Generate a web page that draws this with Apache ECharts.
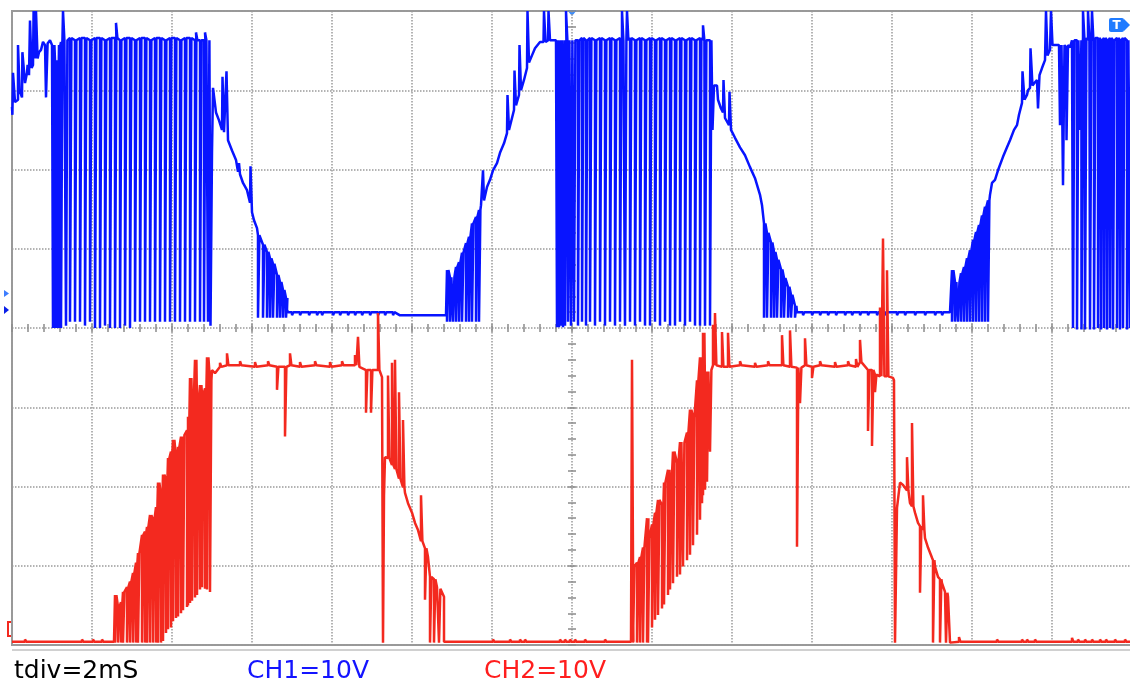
<!DOCTYPE html>
<html>
<head>
<meta charset="utf-8">
<title>scope capture</title>
<script src="https://cdn.jsdelivr.net/npm/echarts@6/dist/echarts.min.js"></script>
<style>
  html, body { margin: 0; padding: 0; background: #fff; }
  #chart { width: 1130px; height: 683px; }
</style>
</head>
<body>
<div id="chart"></div>
<script>
// time in ms relative to trigger (2 ms/div), voltage in V on screen (10 V/div)
// [t, v] = a point on the trace, [t, a, b] = a short glitch/pulse from level a to b and back

// ---- CH1 (blue) ----
var ch1Lead = [[-14.0,27.9],[-13.99,26.9],[-13.975,32.2],[-13.925,32.2],[-13.925,28.5],[-13.85,28.8],[-13.85,35.7],[-13.825,35.7],[-13.81,30.0],[-13.75,29.1],[-13.74,34.8],[-13.7,34.8],[-13.675,30.9],[-13.625,32.2],[-13.61,33.2],[-13.575,31.9],[-13.55,38.8],[-13.525,38.8],[-13.51,32.8],[-13.475,33.2],[-13.46,40],[-13.425,40],[-13.41,34.0],[-13.4,40],[-13.375,40],[-13.36,34.0],[-13.325,34.8],[-13.275,35.1],[-13.225,36.1],[-13.175,35.7],[-13.15,29.1],[-13.125,29.1],[-13.11,35.9],[-13.05,36.3],[-13.0,35.7]];
var ch1Burst1 = [[-12.975,35.7,0.0],[-12.925,33.8,0.0],[-12.875,30.0,0.0],[-12.825,35.7,0.0],[-12.775,36.1,0.0],[-12.725,36.3,40],[-12.65,36.3,0.3],[-12.55,36.6,0.8],[-12.425,36.3,0.8],[-12.3,36.6,0.8],[-12.175,36.6,0.3],[-12.05,36.3,0.8],[-11.925,36.6,0.0],[-11.8,36.6,0.0],[-11.675,36.3,0.3],[-11.55,36.6,0.0],[-11.425,36.6,0.0],[-11.4,36.6,38.5],[-11.3,36.3,0.0],[-11.175,36.6,0.3],[-11.05,36.6,0.0],[-10.925,36.3,0.8],[-10.8,36.6,0.8],[-10.675,36.6,0.8],[-10.55,36.3,0.8],[-10.425,36.6,0.8],[-10.3,36.6,0.8],[-10.175,36.3,0.8],[-10.05,36.6,0.8],[-9.925,36.6,0.8],[-9.8,36.3,0.8],[-9.675,36.6,0.8],[-9.55,36.6,0.8],[-9.425,36.3,0.8],[-9.4,36.3,37.3],[-9.3,36.3,0.8],[-9.2,36.3,0.8],[-9.175,36.3,37.3],[-9.1,36.3,0.8]];
var ch1Fall1 = [[-9.05,36.3],[-9.0375,0.3],[-9.0125,0.3],[-9.0,22.2],[-8.975,30.3],[-8.925,30.3],[-8.9,27.2],[-8.825,26.2],[-8.75,25.0],[-8.7375,31.7],[-8.7125,31.7],[-8.7,24.7],[-8.65,24.6],[-8.6375,32.4],[-8.6125,32.4],[-8.6,23.7],[-8.5,22.4],[-8.4,21.2],[-8.35,19.7],[-8.325,20.8],[-8.3,19.4],[-8.225,18.3],[-8.125,17.4],[-8.05,15.8],[-8.0375,20.4],[-8.0125,20.4],[-8.0,14.6],[-7.95,13.6],[-7.875,12.6],
  [-7.85,11.7,1.3],[-7.725,10.5,1.3],[-7.625,9.6,1.3],[-7.55,8.8,1.3],[-7.475,8.1,1.3],[-7.375,6.7,1.3],[-7.3,5.8,1.3],[-7.225,4.8,1.3],[-7.15,3.8,1.3]];
var ch1Flat1 = [[-7.125,2.3],[-7.1,2.0],[-7.0,2.0,1.6],[-6.8,2.0,1.6],[-6.575,2.0,1.6],[-6.375,2.0,1.6],[-6.25,2.0,1.6],[-5.975,2.0,1.6],[-5.8,2.0,1.6],[-5.6,2.0,1.6],[-5.425,2.0,1.6],[-5.25,2.0,1.6],[-5.05,2.0,1.6],[-4.85,2.0,1.6],[-4.675,2.0,1.6],[-4.475,2.0,1.6],[-4.3,1.6],[-3.275,1.6],[-3.15,1.6]];
var ch1Rise1 = [[-3.125,7.3,0.8],[-3.05,6.4,0.8],[-2.975,6.4,0.8],[-2.9,7.7,0.8],[-2.825,8.3,0.8],[-2.75,9.5,0.8],[-2.65,10.7,0.8],[-2.575,11.5,0.8],[-2.5,13.2,0.8],[-2.4,14.0,0.8],[-2.325,14.9,0.8],
  [-2.275,15.5],[-2.24,15.5],[-2.225,19.9],[-2.2,16.1],[-2.125,17.8],[-2.05,18.7],[-1.975,19.9],[-1.875,20.8],[-1.8,22.1],[-1.7,23.3],[-1.625,24.6],[-1.6125,29.4],[-1.5875,29.4],[-1.575,25.0],[-1.5,26.5],[-1.45,27.5],[-1.4375,32.5],[-1.4125,32.5],[-1.4,28.1],[-1.325,29.4],[-1.3125,35.7],[-1.2875,35.7],[-1.275,30.0],[-1.2,31.3],[-1.125,32.8],[-1.1125,40],[-1.0875,40],[-1.075,33.5],[-1.0,34.4],[-0.925,35.3],[-0.8,36.1],[-0.7125,36.1],[-0.7,40],[-0.675,40],[-0.6625,36.1],[-0.6,36.3],[-0.5875,40],[-0.5625,40],[-0.55,36.3],[-0.4,36.3]];
var ch1Burst2 = [[-0.375,36.3,0.1],[-0.325,35.0,0.1],[-0.275,36.3,0.3],[-0.225,30.0,0.1],[-0.175,36.3,0.3],[-0.15,36.3,40],[-0.1,36.3,0.8],[-0.025,36.3,0.3],[0.05,36.3,0.8],[0.15,36.3,0.3],[0.25,36.6,0.8],[0.35,36.3,0.3],[0.45,36.6,0.8],[0.575,36.3,0.3],[0.7,36.6,0.8],[0.825,36.3,0.3],[0.95,36.6,0.8],[1.075,36.3,0.3],[1.2,36.6,0.8],[1.25,36.3,40],[1.325,36.3,0.3],[1.375,36.3,40],[1.45,36.6,0.8],[1.575,36.3,0.3],[1.7,36.6,0.8],[1.825,36.3,0.3],[1.95,36.6,0.3],[2.075,36.3,0.8],[2.2,36.6,0.3],[2.325,36.3,0.8],[2.45,36.6,0.3],[2.575,36.3,0.3],[2.7,36.6,0.8],[2.825,36.3,0.3],[2.95,36.6,0.8],[3.075,36.3,0.3],[3.2,36.6,0.3],[3.275,36.3,38.2],[3.325,36.3,0.3],[3.45,36.3,0.3]];
var ch1Fall2 = [[3.5,36.3],[3.5125,25.0],[3.525,25.0],[3.55,30.6],[3.625,30.6],[3.65,28.8],[3.725,27.7],[3.775,27.2],[3.7875,31.3],[3.8125,31.3],[3.825,26.5],[3.925,25.6],[3.9375,29.8],[3.9625,29.8],[3.975,25.0],[4.075,24.0],[4.2,22.8],[4.325,21.8],[4.45,20.3],[4.575,18.9],[4.7,16.8],[4.75,15.5],
  [4.8,13.2,1.3],[4.875,12.0,1.3],[4.975,10.8,1.3],[5.05,9.6,1.3],[5.125,8.6,1.3],[5.225,7.4,1.3],[5.3,6.3,1.3],[5.4,5.2,1.3],[5.475,4.2,1.3],[5.575,2.8,1.3]];
var ch1Flat2 = [[5.625,2.0],[5.775,2.0,1.6],[6.0,2.0,1.6],[6.2,2.0,1.6],[6.4,2.0,1.6],[6.6,2.0,1.6],[6.825,2.0,1.6],[7.0,2.0,1.6],[7.2,2.0,1.6],[7.4,2.0,1.6],[7.625,2.0,1.6],[7.825,2.0,1.6],[8.125,2.0,1.6],[8.325,2.0,1.6],[8.575,2.0,1.6],[8.825,2.0,1.6],[9.075,2.0,1.6],[9.25,2.0,1.6],[9.45,2.0]];
var ch1Rise2 = [[9.5,7.3,0.8],[9.575,5.8,0.8],[9.65,5.7,0.8],[9.725,6.9,0.8],[9.8,7.7,0.8],[9.875,8.8,0.8],[9.95,9.8,0.8],[10.025,11.1,0.8],[10.1,12.1,0.8],[10.175,13.0,0.8],[10.25,14.2,0.8],[10.325,15.3,0.8],[10.4,16.1,0.8],
  [10.45,16.8],[10.5,18.3],[10.575,18.7],[10.65,19.9],[10.775,21.6],[10.875,22.8],[10.95,23.7],[11.05,25.0],[11.125,25.6],[11.175,26.9],[11.25,28.4],[11.2625,32.4],[11.3,32.4],[11.3125,28.8],[11.375,29.4],[11.4,30.0],[11.45,30.3],[11.4625,35.3],[11.5,35.3],[11.5125,30.6],[11.575,31.0],[11.625,31.3],[11.65,27.7],[11.675,27.7],[11.6875,31.9],[11.75,32.8],[11.825,33.8],[11.85,40],[11.875,40],[11.8875,34.4],[11.95,35.1],[11.975,40],[12.0,40],[12.0125,35.7],[12.175,35.7],[12.2,25.6],[12.225,25.6],[12.2375,35.7],[12.2625,35.7],[12.275,18.0],[12.3,18.0],[12.3125,35.7],[12.35,35.4],[12.3625,23.7],[12.3875,23.7],[12.4,35.7],[12.45,35.4],[12.5,36.3]];
var ch1Burst3 = [[12.525,36.3,0.0],[12.625,36.3,-0.2],[12.7,36.3,25.0],[12.7375,36.3,-0.2],[12.775,36.6,40],[12.825,36.6,-0.2],[12.9,36.3,40],[12.95,36.3,-0.2],[13.0,36.3,40],[13.05,36.6,-0.2],[13.15,36.6,0.0],[13.225,36.3,-0.2],[13.3,36.6,0.0],[13.375,36.3,-0.2],[13.45,36.6,0.0],[13.525,36.3,-0.2],[13.625,36.6,0.0],[13.7,36.3,-0.2],[13.775,36.6,0.0],[13.875,36.3,-0.2],[13.95,36.3,0.0]];

// ---- CH2 (red) ----
var ch2Lead = [[-14.0,-39.6],[-13.675,-39.6,-39.3],[-12.25,-39.6,-39.3],[-11.975,-39.6,-39.3],[-11.75,-39.6,-39.3],[-11.45,-39.6]];
var ch2Rise1 = [[-11.425,-33.7,-39.7],[-11.35,-35.2,-39.7],[-11.275,-34.6,-39.7],[-11.225,-33.3,-39.7],[-11.125,-32.7,-39.7],[-11.05,-32.0,-39.7],[-10.975,-30.9,-39.7],[-10.9,-29.6,-39.7],[-10.85,-28.4,-39.7],[-10.75,-26.1,-39.7],[-10.675,-25.7,-39.7],[-10.625,-25.1,-39.7],[-10.55,-23.6,-39.7],[-10.475,-24.2,-39.7],[-10.4,-22.6,-39.7],[-10.35,-19.5,-39.7],[-10.275,-21.3,-39.7],[-10.225,-18.5,-39.5],[-10.15,-19.2,-38.5],[-10.1,-16.4,-38.0],[-10.025,-15.6,-37.8],[-9.975,-14.1,-37.0],[-9.9,-16.4,-36.6],[-9.85,-15.0,-36.4],[-9.775,-13.7,-36.0],[-9.725,-13.5,-35.6],[-9.625,-12.9,-35.2],[-9.6,-11.2,-35.0],[-9.55,-6.3,-34.7],[-9.5,-10.7,-34.4],[-9.425,-4.0,-34.0],[-9.375,-9.7,-33.7],[-9.3,-7.2,-33.0],[-9.25,-8.4,-32.7],[-9.175,-7.6,-32.9],[-9.125,-3.7,-33.0],[-9.05,-6.6,-33.3]];
var ch2Top1 = [[-9.0,-5.3],[-8.925,-5.7],[-8.8,-4.9,-4.4],[-8.625,-4.7,-3.2],[-8.3,-4.7,-4.2],[-7.925,-4.9,-4.3],[-7.6,-4.7,-4.2],[-7.375,-4.9,-7.8],[-7.175,-4.9,-13.7],[-7.05,-4.7,-3.2],[-6.8,-4.9,-4.3],[-6.425,-4.7,-4.2],[-6.05,-4.9,-4.3],[-5.75,-4.7,-4.2],[-5.425,-4.7,-3.4],[-5.35,-4.9,-1.1],[-5.15,-5.3,-10.7],[-5.025,-5.3,-10.7],[-4.85,-5.3,1.9],[-4.75,-6.2]];
var ch2Fall1 = [[-4.725,-6.2],[-4.725,-39.7],[-4.7,-39.7],[-4.7,-21.1],[-4.675,-16.3],[-4.6,-16.4,-6.0],[-4.5,-17.3,-4.4],[-4.425,-17.8,-4.0],[-4.325,-19.0,-8.1],[-4.225,-20.1,-11.6],[-4.175,-20.8],[-4.1,-22.1],[-4.0,-23.3],[-3.925,-24.6],[-3.85,-25.5],[-3.775,-26.9,-21.1],[-3.675,-27.8,-34.3],[-3.6,-28.9],[-3.55,-31.4,-39.7],[-3.45,-31.7,-39.7],[-3.375,-32.7],[-3.325,-32.9,-39.7],[-3.2,-33.9],[-3.2,-39.6]];
var ch2Base1 = [[-3.1,-39.6],[-1.975,-39.6,-39.3],[-1.55,-39.6,-39.3],[-1.3,-39.6,-39.3],[-1.175,-39.6,-39.3],[-0.3,-39.6,-39.3],[-0.175,-39.6,-39.3],[-0.05,-39.6,-39.3],[0.075,-39.6,-39.3],[0.325,-39.6,-39.3],[0.825,-39.6,-39.3],[1.475,-39.6]];
var ch2Rise2 = [[1.5,-39.6,-4.0],[1.525,-30.1,-39.7],[1.625,-29.6,-39.7],[1.7,-28.9,-39.7],[1.775,-27.7,-39.7],[1.875,-24.0,-39.7],[1.9,-26.5,-39.7],[2.0,-24.8,-37.8],[2.075,-23.3,-36.8],[2.15,-21.7,-36.2],[2.25,-22.3,-35.4],[2.3,-19.5,-34.9],[2.4,-17.9,-33.7],[2.45,-20.1,-33.0],[2.525,-15.6,-32.2],[2.625,-17.0,-31.4],[2.7,-14.4,-31.1],[2.775,-14.5,-30.1],[2.875,-13.2,-29.3],[2.95,-10.3,-28.6],[3.025,-11.3,-27.4],[3.125,-6.6,-26.1],[3.2,-3.7,-24.2],[3.25,-9.5,-22.1],[3.275,-0.6,-21.1],[3.325,-8.1,-20.4],[3.375,-5.5,-19.4],[3.45,-5.3,-15.6],[3.525,-4.7,0.4],[3.575,-4.7,1.9]];
var ch2Top2 = [[3.65,-4.9],[3.75,-4.9,-0.5],[3.9,-4.9,-0.6],[4.2,-4.7,-4.2],[4.575,-4.9,-4.4],[4.9,-4.7,-4.2],[5.25,-4.7,-0.9],[5.45,-4.9,-0.3],[5.625,-5.0,-27.6],[5.7,-5.0,-9.5],[5.825,-4.7,-1.3],[6.0,-4.9,-6.3],[6.2,-4.7,-4.2],[6.575,-4.9,-4.3],[6.9,-4.7,-4.2],[7.1,-4.9,-3.9],[7.2,-4.3,-1.5],[7.4,-5.3,-13.0],[7.5,-5.3,-14.9],[7.575,-5.9,-8.1],[7.7,-6.1,2.6],[7.775,-6.1,11.3],[7.875,-6.1,7.3],[7.9,-5.9],[8.025,-6.3]];
var ch2Fall2 = [[8.05,-6.6],[8.075,-39.7],[8.1,-39.7],[8.125,-22.7],[8.15,-22.7],[8.2,-19.5],[8.275,-19.8],[8.375,-20.5,-16.3],[8.45,-22.1],[8.5,-22.5,-12.0],[8.575,-23.3],[8.65,-24.6],[8.7,-25.0,-33.4],[8.775,-25.5,-21.1],[8.825,-26.5],[8.9,-27.7],[9.0,-29.0],[9.025,-29.3,-39.7],[9.075,-30.1],[9.15,-31.4],[9.2,-31.7,-39.7],[9.25,-32.2],[9.325,-33.3],[9.35,-33.4,-39.7],[9.4,-33.9],[9.45,-39.7]];
var ch2Base2 = [[9.5,-39.6],[9.675,-39.6,-39.0],[10.625,-39.6,-39.3],[11.25,-39.6,-39.3],[11.375,-39.6,-39.3],[11.575,-39.6,-39.3],[12.5,-39.6,-39.1],[12.65,-39.6,-39.3],[12.825,-39.6,-39.3],[13.0,-39.6,-39.3],[13.2,-39.6,-39.3],[13.35,-39.6,-39.3],[13.575,-39.6,-39.3],[13.825,-39.6,-39.3],[14.0,-39.6]];

var PULSE_W = 0.035; // glitch width in ms

function expand(sections) {
  var out = [];
  sections.forEach(function (sec) {
    sec.forEach(function (p) {
      if (p.length === 2) {
        out.push(p);
      } else {
        out.push([p[0], p[1]], [p[0], p[2]], [p[0] + PULSE_W, p[2]], [p[0] + PULSE_W, p[1]]);
      }
    });
  });
  return out;
}

var ch1 = expand([ch1Lead, ch1Burst1, ch1Fall1, ch1Flat1, ch1Rise1, ch1Burst2, ch1Fall2, ch1Flat2, ch1Rise2, ch1Burst3]);
var ch2 = expand([ch2Lead, ch2Rise1, ch2Top1, ch2Fall1, ch2Base1, ch2Rise2, ch2Top2, ch2Fall2, ch2Base2]);

var chart = echarts.init(document.getElementById('chart'), null, { renderer: 'canvas' });

var gridLine = { color: '#9a9a9a', width: 1.5, type: [1.5, 1.5] };
var tickStyle = { color: '#8c8c8c', width: 1.5 };

function xAx(pos, grid) {
  return {
    type: 'value', min: -14, max: 14, interval: 2, position: pos,
    axisLabel: { show: false },
    splitLine: { show: grid, lineStyle: gridLine },
    axisLine: { show: false, onZero: true },
    axisTick: { show: true, inside: false, length: 4, lineStyle: tickStyle },
    minorTick: { show: true, splitNumber: 5, length: 4, lineStyle: tickStyle }
  };
}
function yAx(pos, grid) {
  return {
    type: 'value', min: -40, max: 40, interval: 10, position: pos,
    axisLabel: { show: false },
    splitLine: { show: grid, lineStyle: gridLine },
    axisLine: { show: false, onZero: true },
    axisTick: { show: true, inside: false, length: 4, lineStyle: tickStyle },
    minorTick: { show: true, splitNumber: 5, length: 4, lineStyle: tickStyle }
  };
}

var option = {
  animation: false,
  backgroundColor: '#ffffff',
  grid: {
    left: 12, top: 11, width: 1120, height: 634,
    show: true, borderColor: '#999999', borderWidth: 2,
    outerBoundsMode: 'none'
  },
  xAxis: [xAx('bottom', true), xAx('top', false)],
  yAxis: [yAx('left', true), yAx('right', false)],
  series: [
    {
      name: 'CH1', type: 'line', data: ch1,
      symbol: 'none', showSymbol: false, silent: true,
      lineStyle: { color: '#0814ff', width: 2.5, join: 'bevel' },
      z: 3
    },
    {
      name: 'CH2', type: 'line', data: ch2,
      symbol: 'none', showSymbol: false, silent: true,
      lineStyle: { color: '#f3291f', width: 2.5, join: 'bevel' },
      z: 4
    }
  ],
  graphic: [
    { type: 'line', shape: { x1: 12, y1: 650, x2: 1130, y2: 650 }, style: { stroke: '#d0d0d0', lineWidth: 2 } },
    { type: 'text', x: 14, y: 671, style: { text: 'tdiv=2mS', fill: '#000000', font: '25px "DejaVu Sans"', verticalAlign: 'middle' } },
    { type: 'text', x: 247, y: 671, style: { text: 'CH1=10V', fill: '#1414ff', font: '25px "DejaVu Sans"', verticalAlign: 'middle' } },
    { type: 'text', x: 484, y: 671, style: { text: 'CH2=10V', fill: '#ff1e1e', font: '25px "DejaVu Sans"', verticalAlign: 'middle' } },
    // channel / trigger markers
    { type: 'polygon', shape: { points: [[4, 290], [9, 293.5], [4, 297]] }, style: { fill: '#3d7dff' } },
    { type: 'polygon', shape: { points: [[4, 306], [9, 310], [4, 314]] }, style: { fill: '#0a20e8' } },
    { type: 'polyline', shape: { points: [[11, 622], [8, 622], [8, 636], [11, 636]] }, style: { stroke: '#f3291f', lineWidth: 2, fill: null } },
    { type: 'polygon', shape: { points: [[567, 10], [577, 10], [572, 16]] }, style: { fill: '#3a8cff' } },
    { type: 'rect', shape: { x: 1109, y: 18, width: 15, height: 14, r: 2 }, style: { fill: '#1f7bff' } },
    { type: 'polygon', shape: { points: [[1124, 19], [1130, 25], [1124, 31]] }, style: { fill: '#1f7bff' } },
    { type: 'text', x: 1116.5, y: 25.5, style: { text: 'T', fill: '#ffffff', font: 'bold 12px "DejaVu Sans"', align: 'center', verticalAlign: 'middle' } }
  ]
};

chart.setOption(option);
</script>
</body>
</html>
